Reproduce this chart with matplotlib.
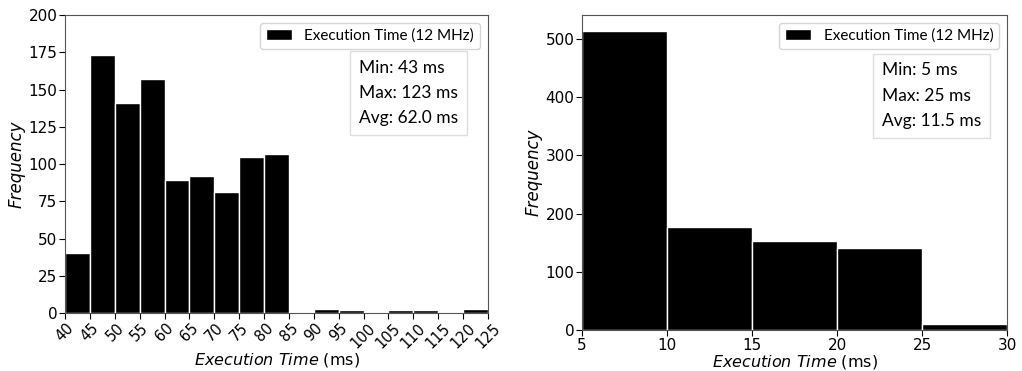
import matplotlib
matplotlib.use("Agg")
from matplotlib import pyplot as plt

# left histogram: bin edges and counts (ms)
left_edges = [40, 45, 50, 55, 60, 65, 70, 75, 80, 85, 90, 95, 100, 105, 110, 115, 120, 125]
left_counts = [40, 173, 141, 157, 89, 92, 81, 105, 107, 0, 3, 2, 0, 2, 2, 0, 3]
left_stats = ["Min: 43 ms", "Max: 123 ms", "Avg: 62.0 ms"]

# right histogram
right_edges = [5, 10, 15, 20, 25, 30]
right_counts = [514, 177, 153, 141, 11]
right_stats = ["Min: 5 ms", "Max: 25 ms", "Avg: 11.5 ms"]

legend_label = "Execution Time (12 MHz)"
box_font = "Lato"


def draw_hist(ax, edges, counts, stats, stats_pos):
    ax.hist(edges[:-1], bins=edges, weights=counts, color="black",
            edgecolor="white", linewidth=1, label=legend_label)
    ax.set_xlim(edges[0], edges[-1])
    ax.set_xticks(edges)
    ax.tick_params(labelsize=11, length=4, pad=1.5)
    ax.set_xlabel(r"$\it{Execution\ Time}$ (ms)", fontsize=11.5, labelpad=0)
    ax.set_ylabel("Frequency", fontsize=12, style="italic", labelpad=2)
    for s in ax.spines.values():
        s.set_color("#555555")
    ax.legend(loc="upper right", prop={"family": box_font, "size": 11},
              handlelength=1.7, borderaxespad=0.5)
    ax.text(stats_pos[0], stats_pos[1], "\n".join(stats), transform=ax.transAxes,
            ha="left", va="top", fontsize=12.5, family=box_font, linespacing=1.72,
            bbox=dict(boxstyle="square,pad=0.5", facecolor="white", edgecolor="#dddddd"))


fig = plt.figure(figsize=(10.22, 3.71), dpi=100)
ax1 = fig.add_axes([65 / 1022, 1 - 313 / 371, 423 / 1022, 298 / 371])
ax2 = fig.add_axes([582 / 1022, 1 - 330 / 371, 425 / 1022, 315 / 371])

draw_hist(ax1, left_edges, left_counts, left_stats, (0.695, 0.85))
ax1.set_ylim(0, 200)
ax1.tick_params(axis="x", labelsize=10.5)
for lbl in ax1.get_xticklabels():
    lbl.set_rotation(45)
    lbl.set_ha("center")

draw_hist(ax2, right_edges, right_counts, right_stats, (0.705, 0.85))
ax2.set_ylim(0, 541)

fig.savefig("out.png", dpi=100)
